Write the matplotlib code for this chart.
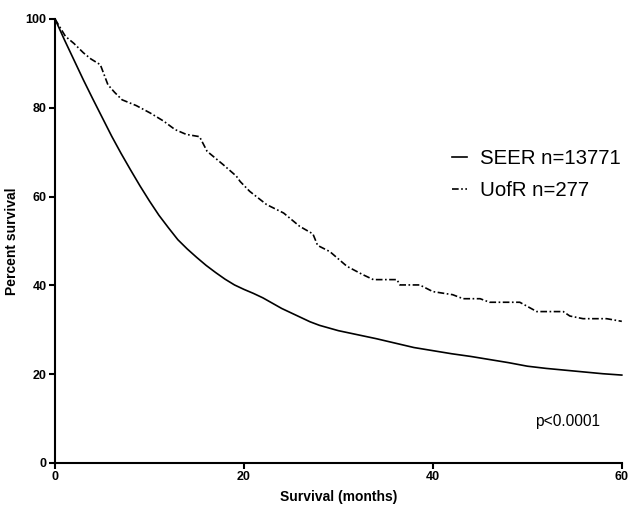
import matplotlib
matplotlib.use('Agg')
import matplotlib.pyplot as plt

plt.rcParams['font.family'] = ['Liberation Sans', 'DejaVu Sans']

# SEER curve (smooth)
seer_months = [0, 1, 2, 3, 4, 5, 6, 7, 8, 9, 10, 11, 12, 13, 14, 15, 16, 17, 18, 19, 20,
               21, 22, 23, 24, 25, 26, 27, 28, 30, 32, 34, 36, 38, 40, 42, 44, 46, 48,
               50, 52, 54, 56, 58, 60]
seer_pct = [100, 95.3, 90.8, 86.3, 82, 77.8, 73.6, 69.7, 66, 62.4, 59, 55.8, 53, 50.3,
            48.2, 46.3, 44.5, 42.9, 41.4, 40.1, 39.1, 38.2, 37.2, 36, 34.8, 33.8, 32.8,
            31.8, 31.0, 29.8, 28.9, 28.0, 27.0, 26.0, 25.3, 24.6, 24.0, 23.3, 22.6,
            21.8, 21.3, 20.9, 20.5, 20.1, 19.8]

# UofR curve (stepped Kaplan-Meier)
uofr_months = [0, 1.1, 2, 3, 3.8, 4.8, 5.6, 6.3, 7.1, 8.6, 10.1, 11.5, 12.7, 13.9, 15.3,
               16.1, 17.8, 19.2, 19.6, 20.6, 22.4, 24.2, 25.9, 27.3, 27.8, 29.1, 30.9,
               32.6, 33.7, 36.2, 36.5, 38.6, 40.0, 42.1, 43.2, 45.0, 46.0, 49.2, 51.0,
               53.8, 54.5, 55.9, 58.4, 60]
uofr_pct = [100, 96.1, 94.5, 92.4, 91, 89.7, 85.2, 83.5, 81.8, 80.5, 78.8, 77, 75.1, 74, 73.5,
            70.2, 67.2, 64.6, 63.4, 61.2, 58.2, 56.3, 53.3, 51.6, 49, 47.6, 44.3,
            42.4, 41.3, 41.3, 40.1, 40.1, 38.6, 37.9, 37.0, 37.0, 36.2, 36.2, 34.1,
            34.1, 33.1, 32.5, 32.5, 31.9]

fig = plt.figure(figsize=(6.3, 5.05), dpi=100)
ax = fig.add_axes([0.0873, 0.0832, 0.8997, 0.8792])

ax.plot(seer_months, seer_pct, color='black', lw=1.2, label='SEER n=13771', clip_on=False)
ax.plot(uofr_months, uofr_pct, color='black', lw=1.2, linestyle=(0, (4, 1.5, 1, 1.5)),
        label='UofR n=277', clip_on=False)

ax.set_xlim(0, 60)
ax.set_ylim(0, 100)
ax.set_xticks([0, 20, 40, 60])
ax.set_yticks([0, 20, 40, 60, 80, 100])
for s in ['top', 'right']:
    ax.spines[s].set_visible(False)
for s in ['left', 'bottom']:
    ax.spines[s].set_linewidth(1.5)
ax.tick_params(direction='out', length=4, width=1.5, pad=2, labelsize=9)
for lab in ax.get_xticklabels() + ax.get_yticklabels():
    lab.set_fontweight('bold')

ax.set_xlabel('Survival (months)', fontsize=10, fontweight='bold', labelpad=5)
ax.set_ylabel('Percent survival', fontsize=10, fontweight='bold', labelpad=5)

ax.legend(loc='upper left', bbox_to_anchor=(0.7175, 0.704), bbox_transform=fig.transFigure,
          frameon=False, fontsize=14.7, handlelength=0.74, handletextpad=0.63,
          labelspacing=0.6, borderpad=0, borderaxespad=0)

ax.text(0.952, 0.165, 'p<0.0001', transform=fig.transFigure, ha='right', va='center',
        fontsize=11.2)

fig.savefig('out.png', dpi=100)
